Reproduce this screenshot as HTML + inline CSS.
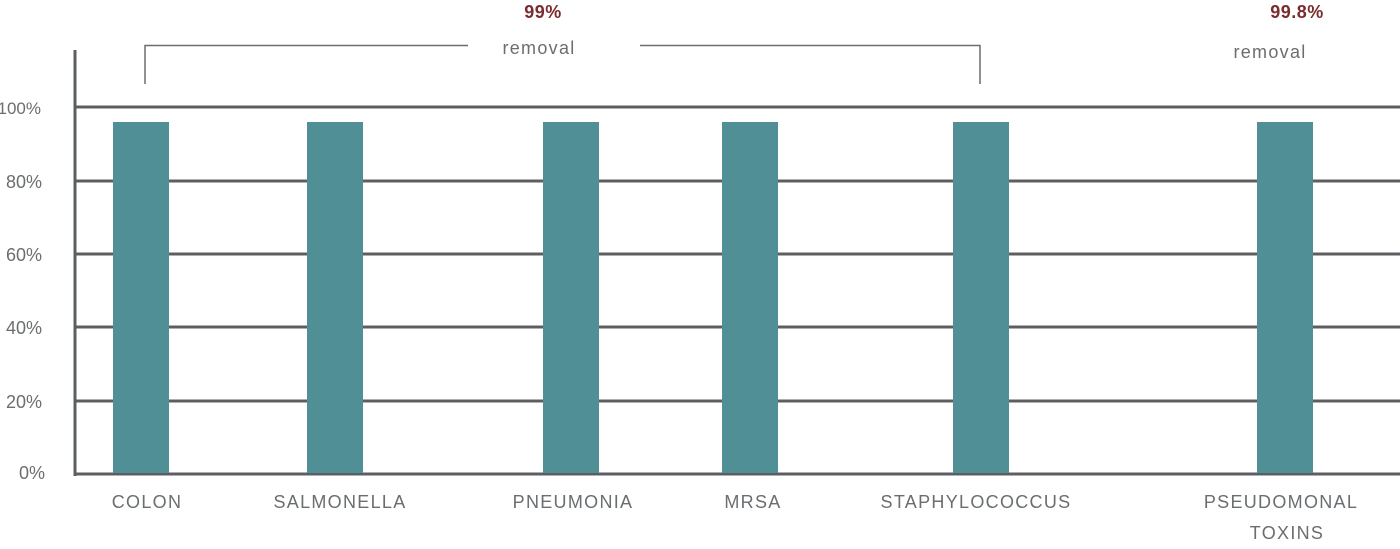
<!DOCTYPE html><html><head><style>body{margin:0;background:#fff}</style></head><body>
<svg width="1400" height="544" xmlns="http://www.w3.org/2000/svg" font-family="Liberation Sans, sans-serif">
<g stroke="#5b5f61" stroke-width="3">
<line x1="75" y1="107" x2="1400" y2="107"/><line x1="75" y1="181" x2="1400" y2="181"/>
<line x1="75" y1="254" x2="1400" y2="254"/><line x1="75" y1="327" x2="1400" y2="327"/>
<line x1="75" y1="401" x2="1400" y2="401"/><line x1="74" y1="474" x2="1400" y2="474"/>
<line x1="75" y1="50" x2="75" y2="476"/></g>
<g fill="#518f96">
<rect x="113" y="122" width="56" height="351"/><rect x="307" y="122" width="56" height="351"/>
<rect x="543" y="122" width="56" height="351"/><rect x="722" y="122" width="56" height="351"/>
<rect x="953" y="122" width="56" height="351"/><rect x="1257" y="122" width="56" height="351"/></g>
<g stroke="#6a6e70" stroke-width="1.5" fill="none">
<polyline points="145,84 145,45.5 468,45.5"/><polyline points="640,45.5 980,45.5 980,84"/></g>
<g fill="#6a6e70" font-size="18" text-anchor="end">
<text x="41" y="114" font-size="17">100%</text><text x="42" y="188">80%</text><text x="42" y="261">60%</text>
<text x="42" y="334">40%</text><text x="42" y="408">20%</text><text x="45" y="479">0%</text></g>
<g fill="#6a6e70" font-size="18" letter-spacing="1.3" text-anchor="middle">
<text x="147" y="508">COLON</text><text x="340" y="508">SALMONELLA</text><text x="573" y="508">PNEUMONIA</text>
<text x="753" y="508">MRSA</text><text x="976" y="508">STAPHYLOCOCCUS</text>
<text x="1281" y="508">PSEUDOMONAL</text><text x="1287" y="539">TOXINS</text>
<text x="539" y="54">removal</text><text x="1270" y="58">removal</text></g>
<g fill="#7a2c2e" font-size="18" font-weight="bold" letter-spacing="0.5" text-anchor="middle">
<text x="543" y="18">99%</text><text x="1297" y="18">99.8%</text></g>
</svg></body></html>
